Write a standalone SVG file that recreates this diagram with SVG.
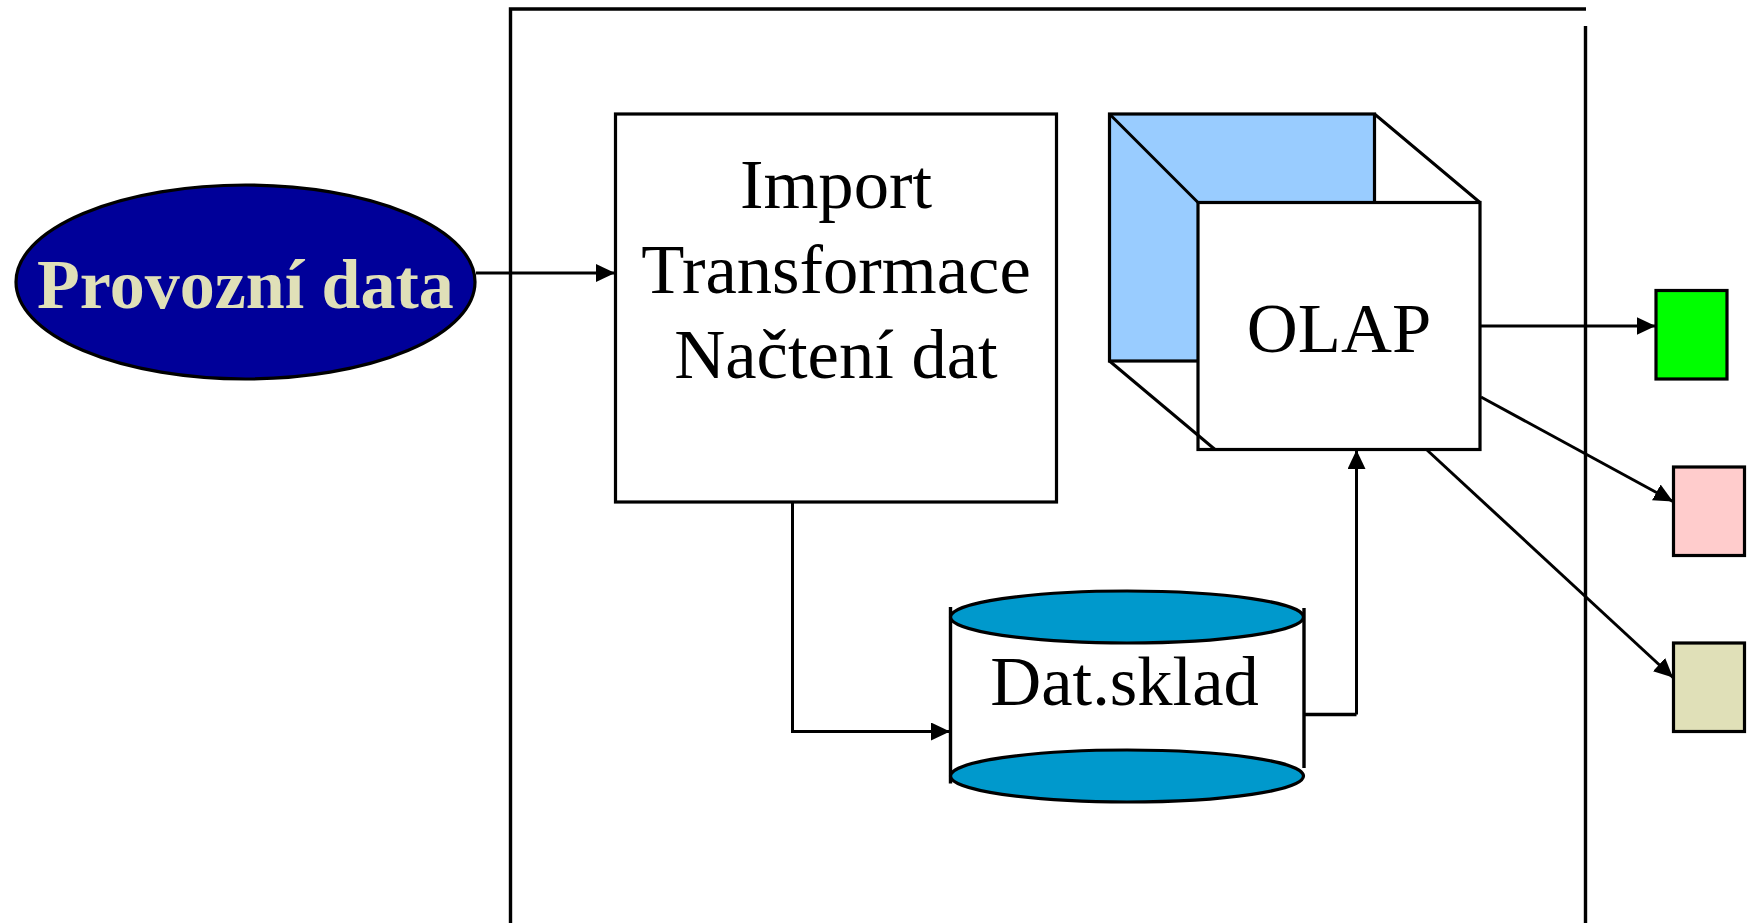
<svg xmlns="http://www.w3.org/2000/svg" width="1755" height="923" viewBox="0 0 1755 923">
<style>
  .s { stroke: #000; stroke-width: 3.2; }
  .t { font-family: "Liberation Serif", "Times New Roman", serif; font-size: 70.600px; fill: #000; text-anchor: middle; }
  .c { fill: none; stroke: #000; stroke-width: 3; }
  .f { fill: none; stroke: #000; stroke-width: 3.4; }
</style>
<defs>
  <marker id="arrow" markerUnits="userSpaceOnUse" markerWidth="20" markerHeight="19" refX="19" refY="9" orient="auto">
    <path d="M0 0L19 9L0 18Z" fill="#000"/>
  </marker>
</defs>
<rect width="1755" height="923" fill="#fff"/>
<g id="frame">
  <path class="f" d="M510.500 923V9H1586"/>
  <path class="f" d="M1585.500 26V923"/>
</g>
<g id="provozni-data">
  <ellipse class="s" cx="245.500" cy="282" rx="229.500" ry="97" fill="#000099"/>
  <text class="t" x="245.500" y="307.500" font-weight="bold" style="fill:#E0E0B8;font-size:70px">Provozní data</text>
</g>
<g id="import">
  <rect class="s" x="615.500" y="114" width="441" height="388" fill="#fff"/>
  <text class="t" x="836" y="208">Import</text>
  <text class="t" x="836" y="293">Transformace</text>
  <text class="t" x="836" y="378">Načtení dat</text>
</g>
<g id="olap">
  <rect class="s" x="1109.500" y="114" width="265" height="247" fill="#99CCFF"/>
  <path class="c" d="M1109.500 114L1198 202.500M1374.500 114L1480 202.500"/>
  <path d="M1198 202.500H1480V449.500H1215L1198 435Z" fill="#fff"/>
  <path class="c" d="M1109.500 361L1215 449.500"/>
  <rect class="s" fill="none" x="1198" y="202.500" width="282" height="247"/>
  <text class="t" x="1339" y="352">OLAP</text>
</g>
<g id="dat-sklad">
  <rect x="950.500" y="617" width="353.500" height="158" fill="#fff"/>
  <path class="f" d="M950.500 607V783.500M1304 608V768"/>
  <ellipse class="s" cx="1127" cy="617" rx="176.500" ry="26" fill="#0099CC"/>
  <ellipse class="s" cx="1127" cy="776" rx="176.500" ry="26" fill="#0099CC"/>
  <text class="t" x="1124.500" y="704.500">Dat.sklad</text>
</g>
<g id="out-green"><rect class="s" x="1656" y="290.500" width="71" height="88.500" fill="#00FF00"/></g>
<g id="out-pink"><rect class="s" x="1673.500" y="467" width="71" height="88.500" fill="#FFCCCC"/></g>
<g id="out-khaki"><rect class="s" x="1673.500" y="643" width="71" height="88.500" fill="#E0E0B8"/></g>
<g id="connectors">
  <path class="c" marker-end="url(#arrow)" d="M476 273H615"/>
  <path class="c" marker-end="url(#arrow)" d="M792.500 502V731.500H950"/>
  <path class="f" d="M1305 714.500H1356.500"/>
  <path class="c" marker-end="url(#arrow)" d="M1356.500 714.500V450"/>
  <path class="c" marker-end="url(#arrow)" d="M1480 326H1655.500"/>
  <path class="c" marker-end="url(#arrow)" d="M1481 397L1673 501.500"/>
  <path class="c" marker-end="url(#arrow)" d="M1427 450L1673 677.500"/>
</g>
</svg>
